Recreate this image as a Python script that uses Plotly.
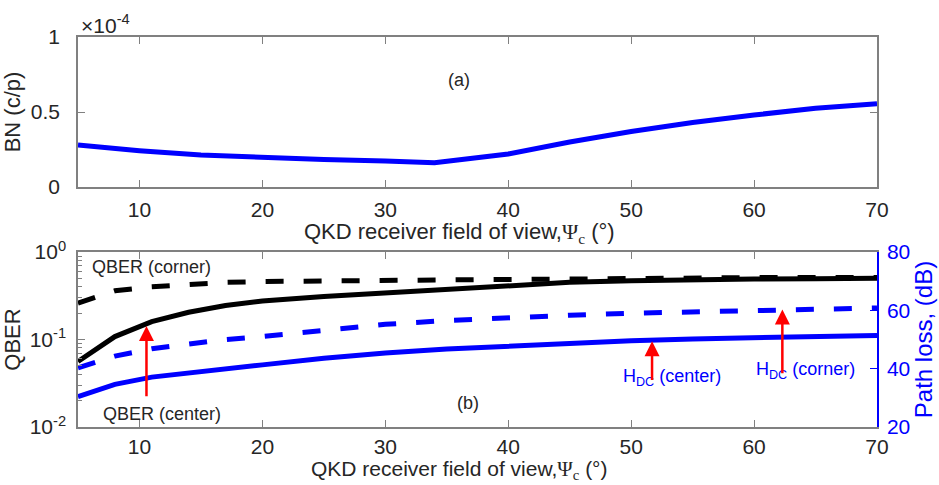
import plotly.graph_objects as go

# ---- data ----
x_bn = [5, 10, 15, 20, 25, 30, 34, 40, 45, 50, 55, 60, 65, 70]
bn = [0.28e-4, 0.242e-4, 0.213e-4, 0.195e-4, 0.184e-4, 0.173e-4, 0.162e-4,
      0.22e-4, 0.30e-4, 0.37e-4, 0.43e-4, 0.48e-4, 0.525e-4, 0.555e-4]

x_b = [5, 8, 11, 14, 17, 20, 25, 30, 35, 40, 45, 50, 55, 60, 65, 70]
qber_center = [0.056, 0.108, 0.16, 0.205, 0.245, 0.275, 0.31, 0.34, 0.375,
               0.41, 0.45, 0.47, 0.485, 0.49, 0.495, 0.50]
qber_corner = [0.26, 0.36, 0.40, 0.43, 0.45, 0.46, 0.47, 0.478, 0.48,
               0.485, 0.495, 0.505, 0.51, 0.51, 0.51, 0.51]
hdc_corner = [40.3, 44.3, 46.8, 48.5, 50.0, 51.0, 53.2, 55.2, 56.5,
              57.5, 58.3, 59.0, 59.5, 60.0, 60.4, 60.8]
hdc_center = [30.4, 34.6, 37.1, 38.6, 40.0, 41.3, 43.6, 45.4, 46.7,
              47.8, 48.8, 49.6, 50.2, 50.7, 51.1, 51.4]

x_ticks = [10, 20, 30, 40, 50, 60, 70]
bn_ticks = [0, 0.5e-4, 1e-4]
bn_ticktext = ["0", "0.5", "1"]
q_ticks = [0.01, 0.1, 1]
q_ticktext = ["10<sup>-2</sup>", "10<sup>-1</sup>", "10<sup>0</sup>"]
q_minor = [0.02, 0.03, 0.04, 0.05, 0.06, 0.07, 0.08, 0.09,
           0.2, 0.3, 0.4, 0.5, 0.6, 0.7, 0.8, 0.9]
pl_ticks = [20, 40, 60, 80]

BLUE = "#0000ff"
GRAY = "#808080"
TXT = "#262626"
FONT = "Liberation Sans, Arial, sans-serif"
W, H = 939, 485

fig = go.Figure()
fig.add_trace(go.Scatter(x=x_bn, y=bn, mode="lines", line=dict(color=BLUE, width=5),
                         xaxis="x", yaxis="y", showlegend=False))
fig.add_trace(go.Scatter(x=x_b, y=qber_corner, mode="lines",
                         line=dict(color="black", width=5, dash="18px,20px"),
                         xaxis="x2", yaxis="y2", showlegend=False))
fig.add_trace(go.Scatter(x=x_b, y=qber_center, mode="lines",
                         line=dict(color="black", width=5),
                         xaxis="x2", yaxis="y2", showlegend=False))
fig.add_trace(go.Scatter(x=x_b, y=hdc_corner, mode="lines",
                         line=dict(color=BLUE, width=5, dash="18px,20px"),
                         xaxis="x2", yaxis="y3", showlegend=False))
fig.add_trace(go.Scatter(x=x_b, y=hdc_center, mode="lines",
                         line=dict(color=BLUE, width=5),
                         xaxis="x2", yaxis="y3", showlegend=False))

xd = [78 / W, 877 / W]
top_d = [1 - 187 / H, 1 - 37 / H]
bot_d = [1 - 427 / H, 1 - 252 / H]

xtitle = ("QKD receiver field of view,"
          "<span style='font-family:Liberation Serif'>Ψ</span>"
          "<sub><span style='font-family:Liberation Serif'>c</span></sub> (°)")
common_x = dict(range=[5, 70], tickvals=x_ticks, ticks="inside", ticklen=7,
                tickcolor=GRAY, showline=True, linecolor=GRAY, linewidth=1.5,
                mirror="ticks", showgrid=False, zeroline=False, automargin=False,
                tickfont=dict(size=21, color=TXT, family=FONT))

fig.update_layout(
    width=W, height=H, margin=dict(l=0, r=0, t=0, b=0, autoexpand=False),
    paper_bgcolor="white", plot_bgcolor="white",
    font=dict(family=FONT, color=TXT),
    xaxis=dict(domain=xd, anchor="y", ticklabelstandoff=3, **common_x),
    yaxis=dict(domain=top_d, anchor="x", range=[0, 1e-4], tickvals=bn_ticks,
               ticktext=bn_ticktext, ticks="inside", ticklen=7, tickcolor=GRAY,
               showline=True, linecolor=GRAY, linewidth=1.5, mirror="ticks",
               showgrid=False, zeroline=False, automargin=False,
               tickfont=dict(size=21, color=TXT, family=FONT), ticklabelstandoff=12,
               title=dict(text="BN (c/p)", font=dict(size=22, color=TXT, family=FONT), standoff=6)),
    xaxis2=dict(domain=xd, anchor="y2", ticklabelstandoff=0, **common_x),
    yaxis2=dict(domain=bot_d, anchor="x2", type="log", range=[-2, 0], tickvals=q_ticks,
                ticktext=q_ticktext, ticks="inside", ticklen=7, tickcolor=GRAY,
                minor=dict(tickvals=q_minor, ticks="inside", ticklen=4, tickcolor=GRAY, showgrid=False),
                showline=True, linecolor=GRAY, linewidth=1.5, mirror=False,
                showgrid=False, zeroline=False, automargin=False,
                tickfont=dict(size=21, color=TXT, family=FONT), ticklabelstandoff=6,
                title=dict(text="QBER", font=dict(size=22, color=TXT, family=FONT), standoff=4)),
    yaxis3=dict(overlaying="y2", anchor="x2", side="right", range=[20, 80],
                tickvals=pl_ticks, ticks="inside", ticklen=7, tickcolor=BLUE,
                showline=True, linecolor=BLUE, linewidth=1.5, showgrid=False, zeroline=False,
                automargin=False,
                tickfont=dict(size=21, color=BLUE, family=FONT), ticklabelstandoff=4,
                title=dict(text="Path loss, (dB)", font=dict(size=24, color=BLUE, family=FONT), standoff=6)),
)

ann = []
# x-axis titles (placed as in the reference, slightly left of centre)
for ytop, fs in ((217, 22), (455, 21)):
    ann.append(dict(xref="paper", yref="paper", x=459 / W, y=1 - ytop / H, xanchor="center",
                    yanchor="top", text=xtitle, showarrow=False,
                    font=dict(size=fs, color=TXT, family=FONT)))
ann.append(dict(xref="paper", yref="paper", x=79 / W, y=1 - 24 / H, xanchor="left", yanchor="middle",
                text="×10<sup>-4</sup>", showarrow=False, font=dict(size=21, color=TXT, family=FONT)))
ann.append(dict(xref="x", yref="y", x=36, y=0.713e-4, text="(a)", showarrow=False,
                font=dict(size=18, color=TXT, family=FONT)))
ann.append(dict(xref="x2", yref="y3", x=36.7, y=28.3, text="(b)", showarrow=False,
                font=dict(size=18, color=TXT, family=FONT)))
ann.append(dict(xref="x2", yref="y3", x=11.0, y=74.8, text="QBER (corner)", showarrow=False,
                font=dict(size=18, color=TXT, family=FONT)))
ann.append(dict(xref="x2", yref="y3", x=11.8, y=24.5, text="QBER (center)", showarrow=False,
                font=dict(size=18, color=TXT, family=FONT)))
ann.append(dict(xref="x2", yref="y3", x=53.3, y=37.0, text="H<sub>DC</sub> (center)", showarrow=False,
                font=dict(size=18, color=BLUE, family=FONT)))
ann.append(dict(xref="x2", yref="y3", x=64.2, y=39.5, text="H<sub>DC</sub> (corner)", showarrow=False,
                font=dict(size=18, color=BLUE, family=FONT)))
for (xa, ytip, ytail) in [(10.57, 54.6, 30.0), (51.7, 49.4, 35.6), (62.3, 60.3, 37.9)]:
    ann.append(dict(xref="x2", yref="y3", axref="x2", ayref="y3", x=xa, y=ytip, ax=xa, ay=ytail,
                    text="", showarrow=True, arrowhead=2, arrowsize=1.2, arrowwidth=2.5,
                    arrowcolor="#ff0000"))
fig.update_layout(annotations=ann)

fig.write_html("out.html")
